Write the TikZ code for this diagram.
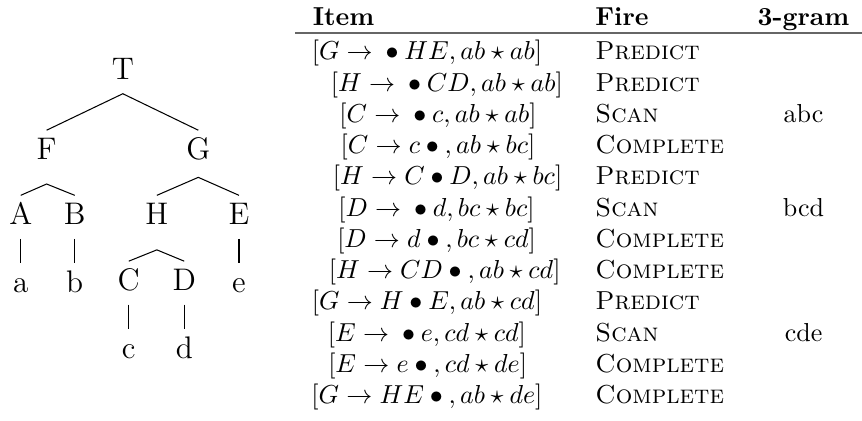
\documentclass[tikz,border=0pt]{standalone}
\usepackage{amsmath}
\usepackage{amssymb}
\usetikzlibrary{positioning,calc}

% bullet as a binary operator, with space on both sides
\newcommand{\dotp}{{}\bullet{}}

\begin{document}
\begin{tikzpicture}[
    sym/.style={font=\large, anchor=base, inner xsep=1pt, inner ysep=2.7pt,
                text height=8.2pt, text depth=2.7pt},
    branch/.style={line width=0.4pt, black},
    head/.style={font=\bfseries, anchor=base, inner sep=0pt},
    itm/.style={anchor=base, inner sep=0pt},
    fire/.style={anchor=base west, inner sep=0pt},
    gram/.style={anchor=base, inner sep=0pt},
    hrule/.style={line width=0.9pt, black!60}
  ]
  \useasboundingbox (0,0) rectangle (11.65,-5.68);

  % ---------- derivation tree ---------------------------------------------
  \node[sym] (T) at (1.66,-1.07) {T};
  \node[sym] (F) at (0.63,-2.15) {F};
  \node[sym] (G) at (2.68,-2.15) {G};
  \node[sym] (A) at (0.28,-3.03) {A};
  \node[sym] (B) at (1.01,-3.03) {B};
  \node[sym] (H) at (2.12,-3.03) {H};
  \node[sym] (E) at (3.23,-3.03) {E};
  \node[sym] (a) at (0.28,-3.95) {a};
  \node[sym] (b) at (1.01,-3.95) {b};
  \node[sym] (C) at (1.74,-3.92) {C};
  \node[sym] (D) at (2.49,-3.92) {D};
  \node[sym] (e) at (3.23,-3.95) {e};
  \node[sym] (c) at (1.74,-4.84) {c};
  \node[sym] (d) at (2.49,-4.84) {d};

  % the split points hang a little lower under F, G and H
  \coordinate (Fs) at ($(F.south)+(0,-0.14)$);
  \coordinate (Gs) at ($(G.south)+(0,-0.05)$);
  \coordinate (Hs) at ($(H.south)+(0,-0.15)$);

  \draw[branch] (F.north) -- (T.south) -- (G.north);
  \draw[branch] (A.north) -- (Fs) -- (B.north);
  \draw[branch] (H.north) -- (Gs) -- (E.north);
  \draw[branch] (C.north) -- (Hs) -- (D.north);
  \draw[branch] (A.south) -- (a.north);
  \draw[branch] (B.south) -- (b.north);
  \draw[branch] (E.south) -- (e.north);
  \draw[branch] (C.south) -- (c.north);
  \draw[branch] (D.south) -- (d.north);

  % ---------- table of items ----------------------------------------------
  \node[head, anchor=base west] (hitem) at (4.22,-0.35) {Item};
  \node[head, anchor=base west] (hfire) at (8.04,-0.35) {Fire};
  \node[head] (hgram) at (10.86,-0.35) {3-gram};

  \coordinate (rl) at (3.99,-0.45);
  \coordinate (rr) at (11.65,-0.45);
  \draw[hrule] (rl) -- (rr);

  \node[itm] (it1)  at (5.77,-0.81) {$[G \to \dotp HE, ab \star ab]$};
  \node[itm] (it2)  at (6.04,-1.23) {$[H \to \dotp CD, ab \star ab]$};
  \node[itm] (it3)  at (5.92,-1.65) {$[C \to \dotp c, ab \star ab]$};
  \node[itm] (it4)  at (5.92,-2.08) {$[C \to c \dotp, ab \star bc]$};
  \node[itm] (it5)  at (6.05,-2.50) {$[H \to C \dotp D, ab \star bc]$};
  \node[itm] (it6)  at (5.90,-2.92) {$[D \to \dotp d, bc \star bc]$};
  \node[itm] (it7)  at (5.90,-3.34) {$[D \to d \dotp, bc \star cd]$};
  \node[itm] (it8)  at (6.01,-3.76) {$[H \to CD \dotp, ab \star cd]$};
  \node[itm] (it9)  at (5.77,-4.18) {$[G \to H \dotp E, ab \star cd]$};
  \node[itm] (it10) at (5.77,-4.61) {$[E \to \dotp e, cd \star cd]$};
  \node[itm] (it11) at (5.78,-5.03) {$[E \to e \dotp, cd \star de]$};
  \node[itm] (it12) at (5.77,-5.45) {$[G \to HE \dotp, ab \star de]$};

  \node[fire] (fr1)  at (8.04,-0.81) {\textsc{Predict}};
  \node[fire] (fr2)  at (8.04,-1.23) {\textsc{Predict}};
  \node[fire] (fr3)  at (8.04,-1.65) {\textsc{Scan}};
  \node[fire] (fr4)  at (8.04,-2.08) {\textsc{Complete}};
  \node[fire] (fr5)  at (8.04,-2.50) {\textsc{Predict}};
  \node[fire] (fr6)  at (8.04,-2.92) {\textsc{Scan}};
  \node[fire] (fr7)  at (8.04,-3.34) {\textsc{Complete}};
  \node[fire] (fr8)  at (8.04,-3.76) {\textsc{Complete}};
  \node[fire] (fr9)  at (8.04,-4.18) {\textsc{Predict}};
  \node[fire] (fr10) at (8.04,-4.61) {\textsc{Scan}};
  \node[fire] (fr11) at (8.04,-5.03) {\textsc{Complete}};
  \node[fire] (fr12) at (8.04,-5.45) {\textsc{Complete}};

  \node[gram] (ng3)  at (10.86,-1.65) {abc};
  \node[gram] (ng6)  at (10.86,-2.92) {bcd};
  \node[gram] (ng10) at (10.86,-4.61) {cde};

\end{tikzpicture}
\end{document}
